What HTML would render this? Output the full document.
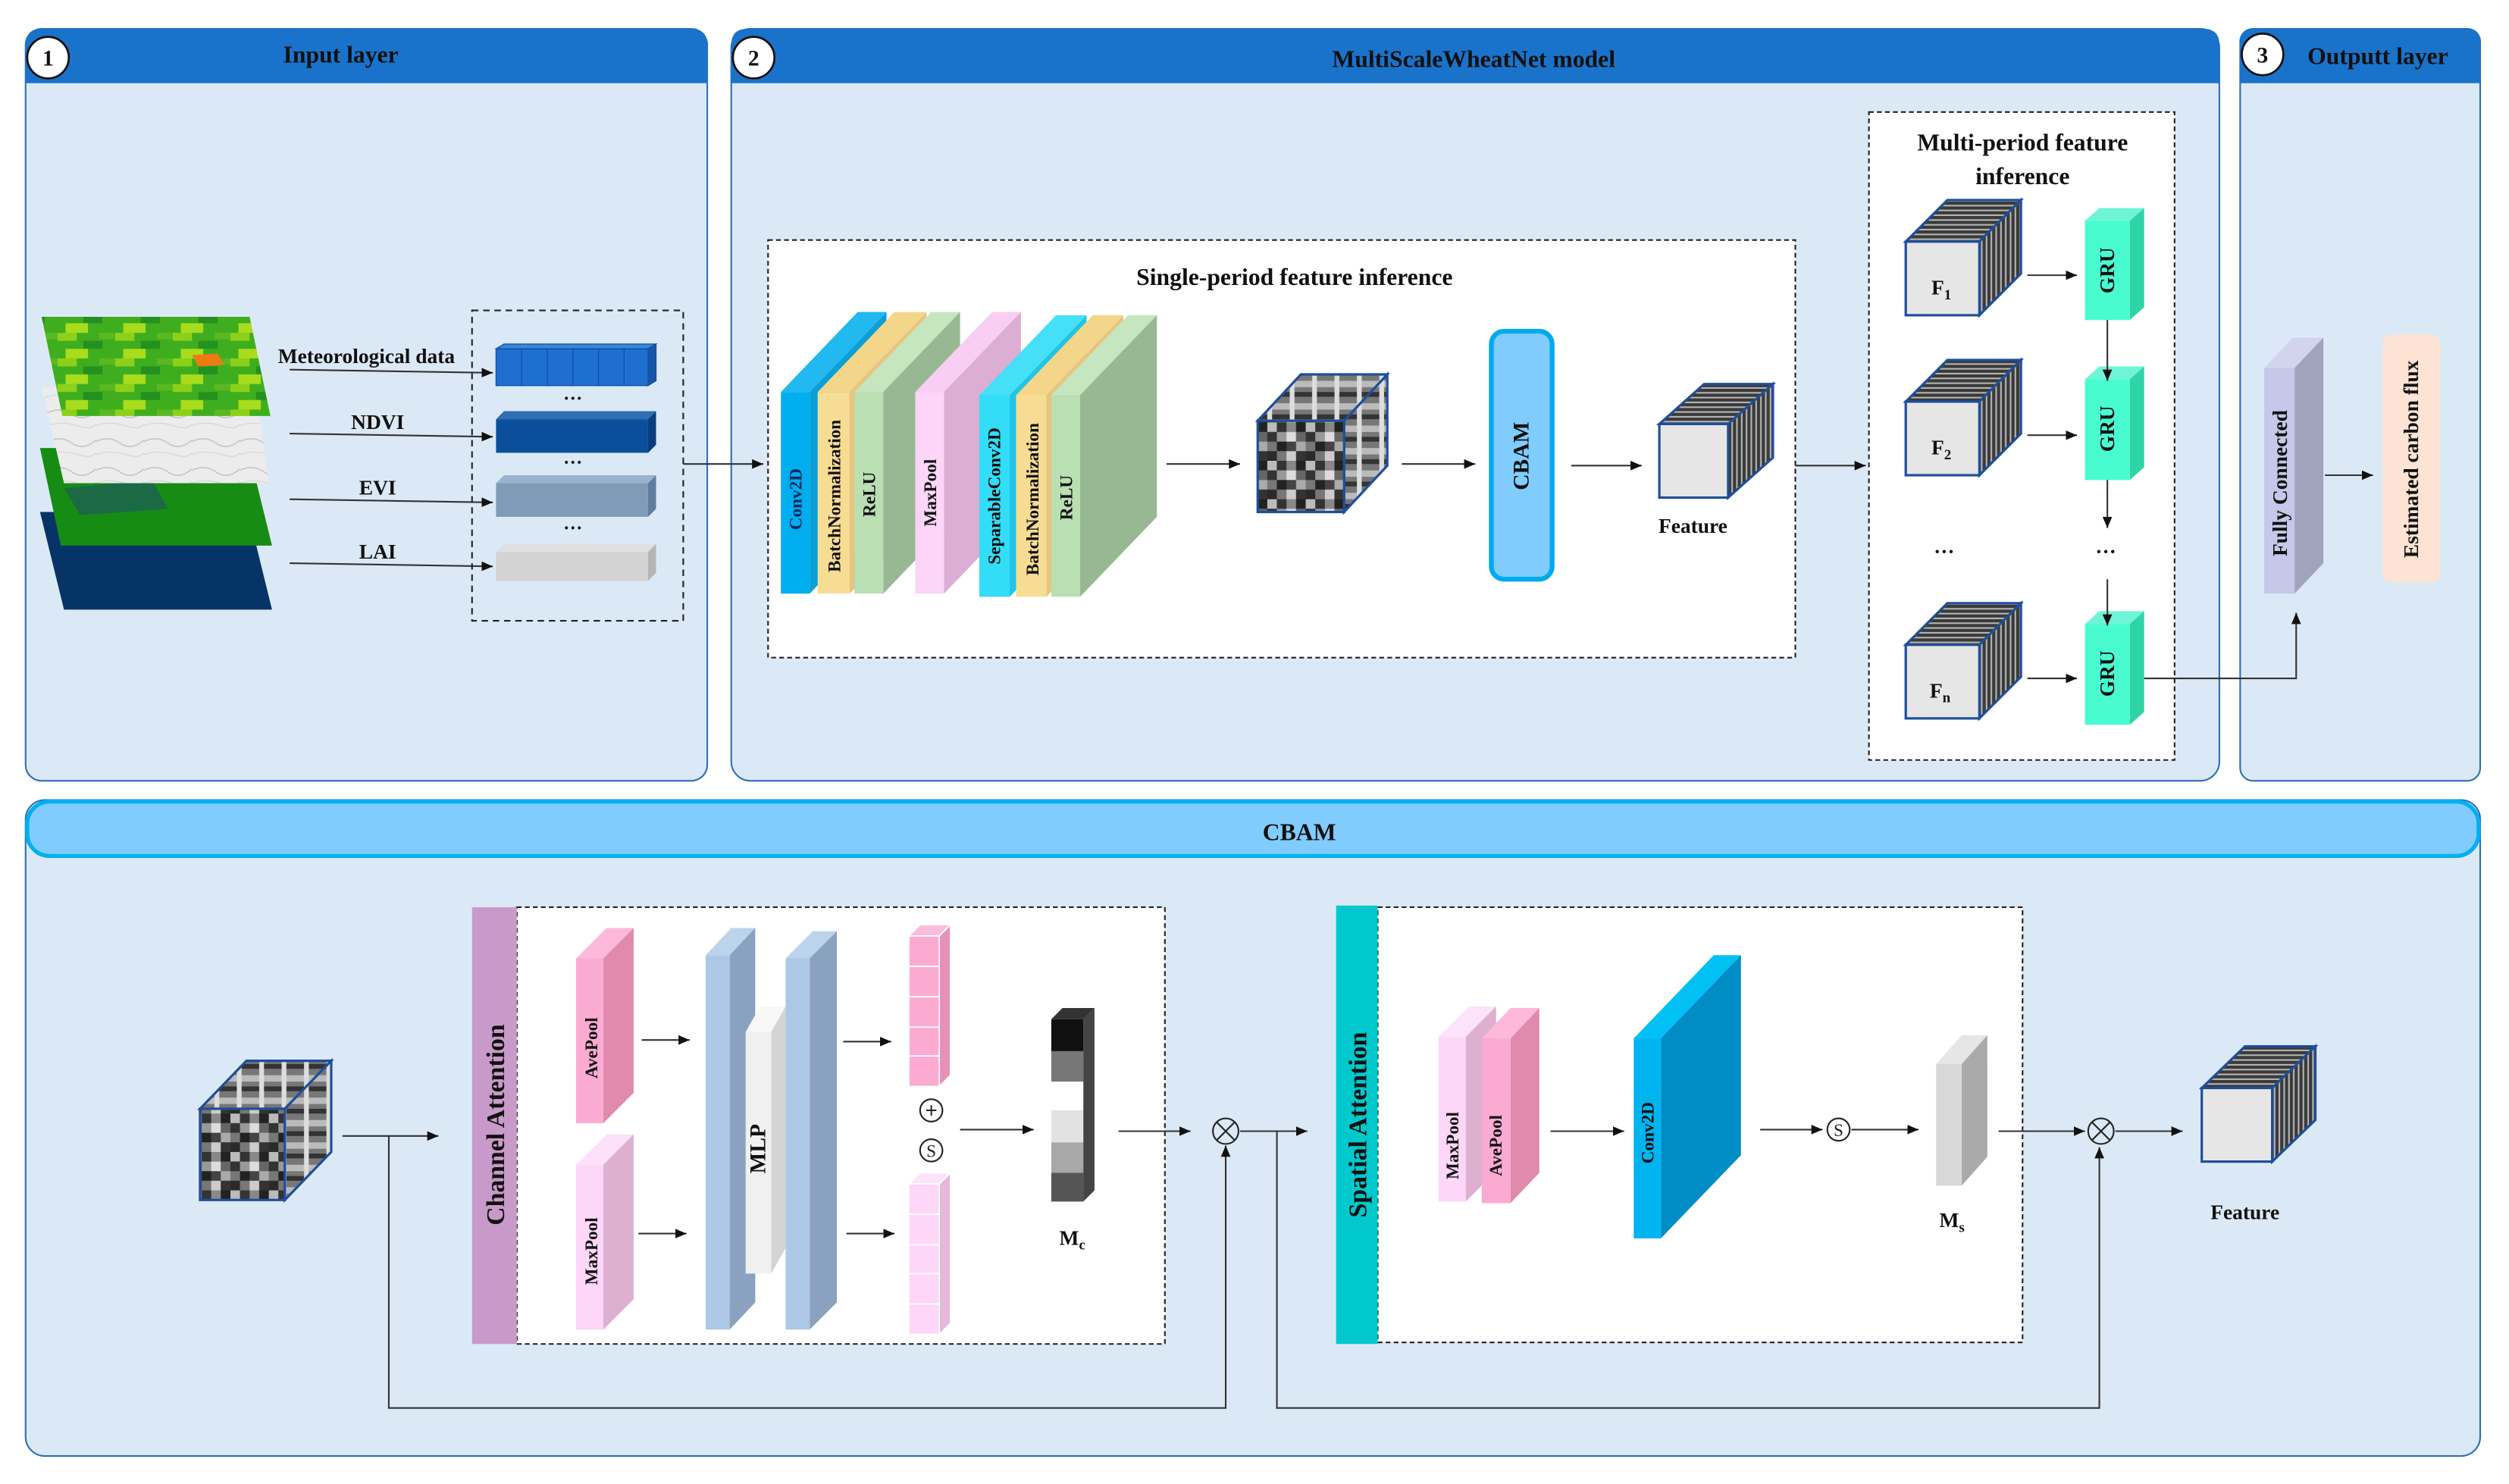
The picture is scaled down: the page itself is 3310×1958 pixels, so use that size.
<!DOCTYPE html>
<html><head><meta charset="utf-8"><style>
html,body{margin:0;padding:0;background:#fff;}
svg{display:block;}
.t{font-family:"Liberation Serif",serif;font-weight:bold;fill:#111;}
</style></head><body>
<svg width="3310" height="1958" viewBox="0 0 1568 927.5" xmlns="http://www.w3.org/2000/svg">
<defs>
<marker id="ar" markerWidth="8" markerHeight="8" refX="7" refY="4" orient="auto" markerUnits="userSpaceOnUse"><path d="M0,1 L7,4 L0,7 z" fill="#111"/></marker>
<pattern id="vs" patternUnits="userSpaceOnUse" width="3" height="3"><rect width="3" height="3" fill="#3a3a3a"/><rect x="2" width="1" height="3" fill="#b5b5b5"/></pattern>
<pattern id="hs" patternUnits="userSpaceOnUse" width="3" height="3"><rect width="3" height="3" fill="#3a3a3a"/><rect y="2" width="3" height="1" fill="#b5b5b5"/></pattern>
<pattern id="nz" patternUnits="userSpaceOnUse" width="24" height="24">
<rect width="24" height="24" fill="#555"/>
<rect x="0" y="0" width="6" height="6" fill="#bbb"/><rect x="6" y="0" width="6" height="6" fill="#333"/><rect x="12" y="0" width="6" height="6" fill="#888"/><rect x="18" y="0" width="6" height="6" fill="#222"/>
<rect x="0" y="6" width="6" height="6" fill="#333"/><rect x="6" y="6" width="6" height="6" fill="#999"/><rect x="12" y="6" width="6" height="6" fill="#ddd"/><rect x="18" y="6" width="6" height="6" fill="#666"/>
<rect x="0" y="12" width="6" height="6" fill="#777"/><rect x="6" y="12" width="6" height="6" fill="#222"/><rect x="12" y="12" width="6" height="6" fill="#444"/><rect x="18" y="12" width="6" height="6" fill="#aaa"/>
<rect x="0" y="18" width="6" height="6" fill="#2a2a2a"/><rect x="6" y="18" width="6" height="6" fill="#777"/><rect x="12" y="18" width="6" height="6" fill="#ccc"/><rect x="18" y="18" width="6" height="6" fill="#333"/>
</pattern>
<pattern id="nz2" patternUnits="userSpaceOnUse" width="14" height="14">
<rect width="14" height="14" fill="#777"/><rect width="14" height="4" fill="#bbb"/><rect y="7" width="14" height="3" fill="#333"/><rect x="8" width="3" height="14" fill="#ddd"/>
</pattern>
<pattern id="marble" patternUnits="userSpaceOnUse" width="30" height="18">
<rect width="30" height="18" fill="#ececec"/><path d="M0,6 Q8,2 15,7 T30,5" stroke="#c2c2c2" fill="none" stroke-width="0.7"/><path d="M0,14 Q9,11 18,14 T30,13" stroke="#d2d2d2" fill="none" stroke-width="0.5"/>
</pattern>
<pattern id="grn" patternUnits="userSpaceOnUse" width="36" height="16">
<rect width="36" height="16" fill="#3fae1e"/><rect x="0" y="0" width="12" height="5" fill="#8cd01a"/><rect x="16" y="5" width="12" height="5" fill="#239020"/><rect x="5" y="10" width="14" height="6" fill="#a8dc1c"/><rect x="26" y="0" width="10" height="4" fill="#5bb821"/>
</pattern>
</defs>

<!-- Panels -->
<rect x="16" y="18" width="426" height="470" rx="10" fill="#dbe9f6" stroke="#2e6fb8" stroke-width="1"/>
<path d="M16,52 L16,28 Q16,18 26,18 L432,18 Q442,18 442,28 L442,52 L26,52 z" fill="#1a73cb"/>
<circle cx="30" cy="36" r="13" fill="#fff" stroke="#111" stroke-width="1.3"/>
<text class="t" x="30" y="41" font-size="14" text-anchor="middle">1</text>
<text class="t" x="213" y="39" font-size="15" text-anchor="middle">Input layer</text>

<rect x="457" y="18" width="930" height="470" rx="12" fill="#dbe9f6" stroke="#2e6fb8" stroke-width="1"/>
<path d="M457,52 L457,28 Q457,18 467,18 L1377,18 Q1387,18 1387,28 L1387,52 L467,52 z" fill="#1a73cb"/>
<circle cx="471" cy="36" r="13" fill="#fff" stroke="#111" stroke-width="1.3"/>
<text class="t" x="471" y="41" font-size="14" text-anchor="middle">2</text>
<text class="t" x="921" y="42" font-size="15" text-anchor="middle">MultiScaleWheatNet model</text>

<rect x="1400" y="18" width="150" height="470" rx="8" fill="#dbe9f6" stroke="#2e6fb8" stroke-width="1"/>
<path d="M1400,52 L1400,26 Q1400,18 1408,18 L1542,18 Q1550,18 1550,26 L1550,52 z" fill="#1a73cb"/>
<circle cx="1414" cy="34" r="13" fill="#fff" stroke="#111" stroke-width="1.3"/>
<text class="t" x="1414" y="39" font-size="14" text-anchor="middle">3</text>
<text class="t" x="1486" y="40" font-size="15" text-anchor="middle">Outputt layer</text>

<rect x="16" y="500" width="1534" height="410" rx="12" fill="#dbe9f6" stroke="#2e6fb8" stroke-width="1"/>
<rect x="17" y="501" width="1532" height="34" rx="14" fill="#80ccff" stroke="#00b0f0" stroke-width="2.5"/>
<text class="t" x="812" y="525" font-size="15" text-anchor="middle">CBAM</text>

<!-- Input layer maps -->
<polygon points="25,320 155,320 170,381 40,381" fill="#073466"/>
<polygon points="25,280 155,280 170,341 38,341" fill="#178c14"/>
<polygon points="40,305 95,300 105,318 50,322" fill="#1c6a45"/>
<polygon points="26,242 160,242 168,302 40,302" fill="url(#marble)"/>
<polygon points="26,198 156,198 169,260 39,260" fill="url(#grn)"/>
<polygon points="120,222 136,221 140,228 124,229" fill="#f07a12"/>
<text class="t" x="229" y="227" font-size="13" text-anchor="middle">Meteorological data</text>
<text class="t" x="236" y="268" font-size="13" text-anchor="middle">NDVI</text>
<text class="t" x="236" y="309" font-size="13" text-anchor="middle">EVI</text>
<text class="t" x="236" y="349" font-size="13" text-anchor="middle">LAI</text>
<g stroke="#333" stroke-width="1" marker-end="url(#ar)">
<line x1="181" y1="231" x2="308" y2="233"/>
<line x1="181" y1="271" x2="308" y2="273"/>
<line x1="181" y1="312" x2="308" y2="314"/>
<line x1="181" y1="352" x2="308" y2="354"/>
</g>
<rect x="295" y="194" width="132" height="194" fill="none" stroke="#222" stroke-width="1" stroke-dasharray="4,3"/>
<g stroke="#0e4fa0" stroke-width="0.6">
<polygon points="310,218 405,218 410,215 315,215" fill="#3a86dc"/>
<polygon points="405,218 410,215 410,238 405,241" fill="#1556a8"/>
<rect x="310" y="218" width="95" height="23" fill="#1f6fd0"/>
<line x1="326" y1="218" x2="326" y2="241"/><line x1="342" y1="218" x2="342" y2="241"/><line x1="358" y1="218" x2="358" y2="241"/><line x1="374" y1="218" x2="374" y2="241"/><line x1="390" y1="218" x2="390" y2="241"/>
</g>
<polygon points="310,262 405,262 410,257 315,257" fill="#2f6db4"/><polygon points="405,262 410,257 410,278 405,283" fill="#093e7a"/><rect x="310" y="262" width="95" height="21" fill="#0b4f9a"/>
<polygon points="310,302 405,302 410,297 315,297" fill="#9ab2cc"/><polygon points="405,302 410,297 410,318 405,323" fill="#5f7d9c"/><rect x="310" y="302" width="95" height="21" fill="#7f9bb8"/>
<polygon points="310,345 405,345 410,340 315,340" fill="#e0e0e0"/><polygon points="405,345 410,340 410,358 405,363" fill="#b5b5b5"/><rect x="310" y="345" width="95" height="18" fill="#d3d3d3"/>
<text class="t" x="358" y="253" font-size="12" text-anchor="middle">···</text>
<text class="t" x="358" y="293" font-size="12" text-anchor="middle">···</text>
<text class="t" x="358" y="334" font-size="12" text-anchor="middle">···</text>
<line x1="427" y1="290" x2="477" y2="290" stroke="#333" stroke-width="1" marker-end="url(#ar)"/>

<!-- Single-period -->
<rect x="480" y="150" width="642" height="261" fill="#fff" stroke="#222" stroke-width="1" stroke-dasharray="3,2"/>
<text class="t" x="809" y="178" font-size="15" text-anchor="middle">Single-period feature inference</text>
<g>
<polygon points="488,245 506,245 554,195 536,195" fill="#22b8f0"/><polygon points="506,245 554,195 554,321 506,371" fill="#0a9fd8"/><rect x="488" y="245" width="18" height="126" fill="#00aeef"/>
<polygon points="511,245 531,245 579,195 559,195" fill="#f4d68a"/><polygon points="531,245 579,195 579,321 531,371" fill="#e6c57f"/><rect x="511" y="245" width="20" height="126" fill="#f7dc93"/>
<polygon points="534,245 552,245 600,195 582,195" fill="#c6e6bf"/><polygon points="552,245 600,195 600,321 552,371" fill="#98b893"/><rect x="534" y="245" width="18" height="126" fill="#b9dfb2"/>
<polygon points="572,245 590,245 638,195 620,195" fill="#f8cff2"/><polygon points="590,245 638,195 638,321 590,371" fill="#dcaed3"/><rect x="572" y="245" width="18" height="126" fill="#fcd5f8"/>
<polygon points="612,247 631,247 679,197 660,197" fill="#45e0f8"/><polygon points="631,247 679,197 679,323 631,373" fill="#22c4e6"/><rect x="612" y="247" width="19" height="126" fill="#33dcf7"/>
<polygon points="635,247 654,247 702,197 683,197" fill="#f4d68a"/><polygon points="654,247 702,197 702,323 654,373" fill="#e6c57f"/><rect x="635" y="247" width="19" height="126" fill="#f7dc93"/>
<polygon points="657,247 675,247 723,197 705,197" fill="#c6e6bf"/><polygon points="675,247 723,197 723,323 675,373" fill="#98b893"/><rect x="657" y="247" width="18" height="126" fill="#b9dfb2"/>
</g>
<g class="t" font-size="11" text-anchor="middle">
<text transform="translate(501,312) rotate(-90)" fill="#0a2a5a">Conv2D</text>
<text transform="translate(525,310) rotate(-90)">BatchNormalization</text>
<text transform="translate(547,309) rotate(-90)">ReLU</text>
<text transform="translate(585,308) rotate(-90)">MaxPool</text>
<text transform="translate(625,310) rotate(-90)">SeparableConv2D</text>
<text transform="translate(649,312) rotate(-90)">BatchNormalization</text>
<text transform="translate(670,311) rotate(-90)">ReLU</text>
</g>
<line x1="729" y1="290" x2="775" y2="290" stroke="#333" stroke-width="1" marker-end="url(#ar)"/>
<g stroke="#1f4e99" stroke-width="1.5">
<polygon points="786,263 840,263 867,234 813,234" fill="url(#nz2)"/>
<polygon points="840,263 867,234 867,291 840,320" fill="url(#nz2)"/>
<rect x="786" y="263" width="54" height="57" fill="url(#nz)"/>
</g>
<line x1="876" y1="290" x2="922" y2="290" stroke="#333" stroke-width="1" marker-end="url(#ar)"/>
<rect x="932" y="207" width="38" height="155" rx="8" fill="#80ccff" stroke="#00aaee" stroke-width="3"/>
<text class="t" transform="translate(951,285) rotate(-90)" font-size="14" text-anchor="middle" dominant-baseline="central">CBAM</text>
<line x1="982" y1="291" x2="1026" y2="291" stroke="#333" stroke-width="1" marker-end="url(#ar)"/>
<g stroke="#1f4e99" stroke-width="1.5">
<polygon points="1037,265 1080,265 1108,240 1065,240" fill="url(#hs)"/>
<polygon points="1080,265 1108,240 1108,286 1080,311" fill="url(#vs)"/>
<rect x="1037" y="265" width="43" height="46" fill="#e6e6e6"/>
</g>
<text class="t" x="1058" y="333" font-size="13" text-anchor="middle">Feature</text>
<line x1="1122" y1="291" x2="1166" y2="291" stroke="#333" stroke-width="1" marker-end="url(#ar)"/>

<!-- Multi-period -->
<rect x="1168" y="70" width="191" height="405" fill="#fff" stroke="#222" stroke-width="1" stroke-dasharray="3,2"/>
<text class="t" x="1264" y="94" font-size="15" text-anchor="middle">Multi-period feature</text>
<text class="t" x="1264" y="115" font-size="15" text-anchor="middle">inference</text>
<g stroke="#1f4e99" stroke-width="1.5">
<polygon points="1191,151 1237,151 1263,125 1217,125" fill="url(#hs)"/><polygon points="1237,151 1263,125 1263,171 1237,197" fill="url(#vs)"/><rect x="1191" y="151" width="46" height="46" fill="#e6e6e6"/>
<polygon points="1191,251 1237,251 1263,225 1217,225" fill="url(#hs)"/><polygon points="1237,251 1263,225 1263,271 1237,297" fill="url(#vs)"/><rect x="1191" y="251" width="46" height="46" fill="#e6e6e6"/>
<polygon points="1191,403 1237,403 1263,377 1217,377" fill="url(#hs)"/><polygon points="1237,403 1263,377 1263,423 1237,449" fill="url(#vs)"/><rect x="1191" y="403" width="46" height="46" fill="#e6e6e6"/>
</g>
<text class="t" x="1207" y="184" font-size="13">F<tspan font-size="9" dy="3">1</tspan></text>
<text class="t" x="1207" y="284" font-size="13">F<tspan font-size="9" dy="3">2</tspan></text>
<text class="t" x="1206" y="436" font-size="13">F<tspan font-size="9" dy="3">n</tspan></text>
<g>
<polygon points="1303,138 1331,138 1340,130 1312,130" fill="#6ff5d6"/><polygon points="1331,138 1340,130 1340,192 1331,200" fill="#2fd4a6"/><rect x="1303" y="138" width="28" height="62" fill="#48fcd0"/>
<polygon points="1303,237 1331,237 1340,229 1312,229" fill="#6ff5d6"/><polygon points="1331,237 1340,229 1340,292 1331,300" fill="#2fd4a6"/><rect x="1303" y="237" width="28" height="63" fill="#48fcd0"/>
<polygon points="1303,390 1331,390 1340,382 1312,382" fill="#6ff5d6"/><polygon points="1331,390 1340,382 1340,445 1331,453" fill="#2fd4a6"/><rect x="1303" y="390" width="28" height="63" fill="#48fcd0"/>
</g>
<g class="t" font-size="13" text-anchor="middle">
<text transform="translate(1317,169) rotate(-90)" dominant-baseline="central">GRU</text>
<text transform="translate(1317,268) rotate(-90)" dominant-baseline="central">GRU</text>
<text transform="translate(1317,421) rotate(-90)" dominant-baseline="central">GRU</text>
</g>
<g stroke="#333" stroke-width="1" marker-end="url(#ar)" fill="none">
<line x1="1267" y1="172" x2="1298" y2="172"/>
<line x1="1267" y1="272" x2="1298" y2="272"/>
<line x1="1267" y1="424" x2="1298" y2="424"/>
<line x1="1317" y1="200" x2="1317" y2="238"/>
<line x1="1317" y1="300" x2="1317" y2="330"/>
<line x1="1317" y1="362" x2="1317" y2="391"/>
<polyline points="1340,424 1435,424 1435,383"/>
</g>
<text class="t" x="1215" y="349" font-size="13" text-anchor="middle">···</text>
<text class="t" x="1316" y="349" font-size="13" text-anchor="middle">···</text>

<!-- Output -->
<polygon points="1415,230 1434,230 1452,211 1433,211" fill="#d2d4ee"/>
<polygon points="1434,230 1452,211 1452,352 1434,371" fill="#a0a3bb"/>
<rect x="1415" y="230" width="19" height="141" fill="#c5c8e8"/>
<text class="t" transform="translate(1425,302) rotate(-90)" font-size="13" text-anchor="middle" dominant-baseline="central">Fully Connected</text>
<line x1="1453" y1="297" x2="1483" y2="297" stroke="#333" stroke-width="1" marker-end="url(#ar)"/>
<rect x="1489" y="209" width="36" height="155" rx="6" fill="#fde3d3"/>
<text class="t" transform="translate(1507,287) rotate(-90)" font-size="13" text-anchor="middle" dominant-baseline="central">Estimated carbon flux</text>

<!-- CBAM: channel attention -->
<g stroke="#1f4e99" stroke-width="1.5">
<polygon points="125,693 178,693 207,663 154,663" fill="url(#nz2)"/>
<polygon points="178,693 207,663 207,720 178,750" fill="url(#nz2)"/>
<rect x="125" y="693" width="53" height="57" fill="url(#nz)"/>
</g>
<rect x="323" y="567" width="405" height="273" fill="#fff" stroke="#222" stroke-width="1" stroke-dasharray="3,2"/>
<rect x="295" y="567" width="28" height="273" fill="#c89ac9"/>
<text class="t" transform="translate(310,703) rotate(-90)" font-size="16" text-anchor="middle" dominant-baseline="central">Channel Attention</text>
<polygon points="360,599 377,599 396,580 379,580" fill="#fdb8da"/><polygon points="377,599 396,580 396,683 377,702" fill="#e08aad"/><rect x="360" y="599" width="17" height="103" fill="#fbaad2"/>
<polygon points="360,728 377,728 396,709 379,709" fill="#fde0fa"/><polygon points="377,728 396,709 396,812 377,831" fill="#ddb0d0"/><rect x="360" y="728" width="17" height="103" fill="#fdd6f8"/>
<text class="t" transform="translate(370,655) rotate(-90)" font-size="11" text-anchor="middle" dominant-baseline="central">AvePool</text>
<text class="t" transform="translate(370,782) rotate(-90)" font-size="11" text-anchor="middle" dominant-baseline="central">MaxPool</text>
<polygon points="441,597 456,597 472,580 457,580" fill="#bcd3ec"/><polygon points="456,597 472,580 472,814 456,831" fill="#8aa2bf"/><rect x="441" y="597" width="15" height="234" fill="#adc8e6"/>
<polygon points="466,645 482,645 491,629 475,629" fill="#f8f8f8"/><polygon points="482,645 491,629 491,780 482,796" fill="#d4d4d4"/><rect x="466" y="645" width="16" height="151" fill="#f0f0f0"/>
<polygon points="491,599 506,599 523,582 508,582" fill="#bcd3ec"/><polygon points="506,599 523,582 523,814 506,831" fill="#8aa2bf"/><rect x="491" y="599" width="15" height="232" fill="#adc8e6"/>
<text class="t" transform="translate(474,718) rotate(-90)" font-size="14" text-anchor="middle" dominant-baseline="central">MLP</text>
<g stroke="#fff" stroke-width="0.8">
<polygon points="568,585 587,585 594,578 575,578" fill="#fdbcdc"/><polygon points="587,585 594,578 594,672 587,679" fill="#e691b8"/>
<rect x="568" y="585" width="19" height="19" fill="#fcaad2"/><rect x="568" y="604" width="19" height="19" fill="#fcaad2"/><rect x="568" y="623" width="19" height="19" fill="#fcaad2"/><rect x="568" y="642" width="19" height="18" fill="#fcaad2"/><rect x="568" y="660" width="19" height="19" fill="#fcaad2"/>
<polygon points="568,740 587,740 594,733 575,733" fill="#fde3f9"/><polygon points="587,740 594,733 594,827 587,834" fill="#e6b8da"/>
<rect x="568" y="740" width="19" height="19" fill="#fdd6f8"/><rect x="568" y="759" width="19" height="19" fill="#fdd6f8"/><rect x="568" y="778" width="19" height="18" fill="#fdd6f8"/><rect x="568" y="796" width="19" height="19" fill="#fdd6f8"/><rect x="568" y="815" width="19" height="19" fill="#fdd6f8"/>
</g>
<circle cx="582" cy="694" r="7" fill="#fff" stroke="#222" stroke-width="1"/>
<text x="582" y="698.5" font-family="Liberation Sans,sans-serif" font-size="13" text-anchor="middle" fill="#222">+</text>
<circle cx="582" cy="719" r="7" fill="#fff" stroke="#222" stroke-width="1"/>
<text x="582" y="723" font-family="Liberation Serif,serif" font-size="11" text-anchor="middle" fill="#222">S</text>
<polygon points="657,637 677,637 684,630 664,630" fill="#333"/>
<polygon points="677,637 684,630 684,744 677,751" fill="#444"/>
<rect x="657" y="637" width="20" height="20" fill="#111"/>
<rect x="657" y="657" width="20" height="19" fill="#777"/>
<rect x="657" y="676" width="20" height="18" fill="#fff"/>
<rect x="657" y="694" width="20" height="20" fill="#e2e2e2"/>
<rect x="657" y="714" width="20" height="19" fill="#a8a8a8"/>
<rect x="657" y="733" width="20" height="18" fill="#555"/>
<text class="t" x="662" y="778" font-size="13">M<tspan font-size="9" dy="3">c</tspan></text>
<circle cx="766" cy="707" r="8" fill="none" stroke="#222" stroke-width="1"/>
<path d="M760.5,701.5 L771.5,712.5 M771.5,701.5 L760.5,712.5" stroke="#222" stroke-width="1"/>
<circle cx="1313" cy="707" r="8" fill="none" stroke="#222" stroke-width="1"/>
<path d="M1307.5,701.5 L1318.5,712.5 M1318.5,701.5 L1307.5,712.5" stroke="#222" stroke-width="1"/>

<!-- Spatial attention -->
<rect x="861" y="567" width="403" height="272" fill="#fff" stroke="#222" stroke-width="1" stroke-dasharray="3,2"/>
<rect x="835" y="566" width="26" height="274" fill="#00c8cc"/>
<text class="t" transform="translate(849,703) rotate(-90)" font-size="16" text-anchor="middle" dominant-baseline="central">Spatial Attention</text>
<polygon points="899,648 916,648 935,629 918,629" fill="#fde3f9"/><polygon points="916,648 935,629 935,732 916,751" fill="#ddb0d0"/><rect x="899" y="648" width="17" height="103" fill="#fdd6f8"/>
<polygon points="926,649 944,649 962,630 944,630" fill="#fdb8da"/><polygon points="944,649 962,630 962,733 944,752" fill="#e08aad"/><rect x="926" y="649" width="18" height="103" fill="#fbaad2"/>
<text class="t" transform="translate(908,716) rotate(-90)" font-size="11" text-anchor="middle" dominant-baseline="central">MaxPool</text>
<text class="t" transform="translate(935,716) rotate(-90)" font-size="11" text-anchor="middle" dominant-baseline="central">AvePool</text>
<polygon points="1021,649 1038,649 1088,597 1071,597" fill="#00c0f4"/>
<polygon points="1038,649 1088,597 1088,722 1038,774" fill="#008cc4"/>
<rect x="1021" y="649" width="17" height="125" fill="#00b4f0"/>
<text class="t" transform="translate(1030,708) rotate(-90)" font-size="11" text-anchor="middle" dominant-baseline="central" fill="#0a2a5a">Conv2D</text>
<circle cx="1149" cy="706" r="7" fill="#fff" stroke="#222" stroke-width="1"/>
<text x="1149" y="710" font-family="Liberation Serif,serif" font-size="11" text-anchor="middle" fill="#222">S</text>
<polygon points="1210,665 1226,665 1242,647 1226,647" fill="#e6e6e6"/>
<polygon points="1226,665 1242,647 1242,723 1226,741" fill="#aaaaaa"/>
<rect x="1210" y="665" width="16" height="76" fill="#d8d8d8"/>
<text class="t" x="1212" y="767" font-size="13">M<tspan font-size="9" dy="3">s</tspan></text>
<g stroke="#1f4e99" stroke-width="1.5">
<polygon points="1376,680 1420,680 1447,654 1403,654" fill="url(#hs)"/>
<polygon points="1420,680 1447,654 1447,700 1420,726" fill="url(#vs)"/>
<rect x="1376" y="680" width="44" height="46" fill="#e6e6e6"/>
</g>
<text class="t" x="1403" y="762" font-size="13" text-anchor="middle">Feature</text>

<!-- CBAM connectors (on top) -->
<g stroke="#333" stroke-width="1" fill="none">
<line x1="214" y1="710" x2="274" y2="710" marker-end="url(#ar)"/>
<polyline points="243,710 243,880 766,880 766,716" marker-end="url(#ar)"/>
<line x1="401" y1="650" x2="431" y2="650" marker-end="url(#ar)"/>
<line x1="399" y1="771" x2="429" y2="771" marker-end="url(#ar)"/>
<line x1="527" y1="651" x2="557" y2="651" marker-end="url(#ar)"/>
<line x1="529" y1="771" x2="559" y2="771" marker-end="url(#ar)"/>
<line x1="600" y1="706" x2="646" y2="706" marker-end="url(#ar)"/>
<line x1="699" y1="707" x2="744" y2="707" marker-end="url(#ar)"/>
<line x1="775" y1="707" x2="817" y2="707" marker-end="url(#ar)"/>
<polyline points="798,707 798,880 1312,880 1312,717" marker-end="url(#ar)"/>
<line x1="969" y1="707" x2="1015" y2="707" marker-end="url(#ar)"/>
<line x1="1100" y1="706" x2="1139" y2="706" marker-end="url(#ar)"/>
<line x1="1157" y1="706" x2="1199" y2="706" marker-end="url(#ar)"/>
<line x1="1249" y1="707" x2="1303" y2="707" marker-end="url(#ar)"/>
<line x1="1322" y1="707" x2="1364" y2="707" marker-end="url(#ar)"/>
</g>
</svg>
</body></html>
